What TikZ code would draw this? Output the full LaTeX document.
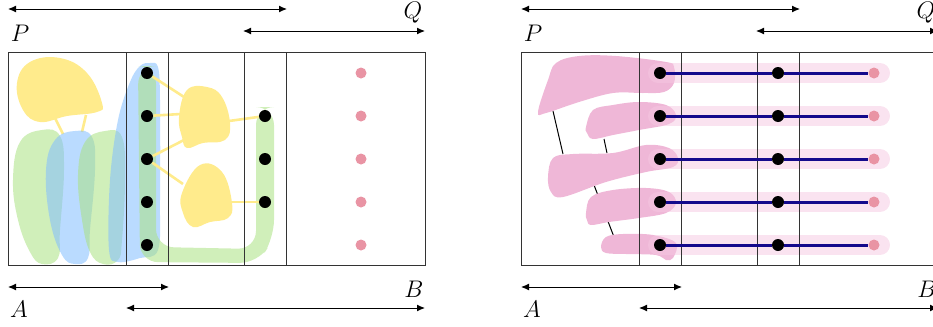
\documentclass[tikz,border=0pt]{standalone}
\usetikzlibrary{arrows.meta}
\definecolor{BlobYellow}{HTML}{FFEB8C}
\definecolor{BlobGreen}{HTML}{AAE182}
\definecolor{BlobBlue}{HTML}{82BEFF}
\definecolor{BlobPink}{HTML}{EFB7D7}
\definecolor{StreakPink}{HTML}{F5C8E1}
\definecolor{DotPink}{HTML}{E994A4}
\definecolor{PathNavy}{HTML}{140A8C}
\definecolor{FrameInk}{HTML}{333333}
\pgfdeclarelayer{blobs}
\pgfsetlayers{blobs,main}

\begin{document}
\begin{tikzpicture}[x=0.5pt,y=-0.5pt,
    dot/.style={circle,fill=black,inner sep=0pt,minimum size=6pt},
    pinkdot/.style={circle,fill=DotPink,inner sep=0pt,minimum size=5.5pt},
    spanarrow/.style={draw=black,line width=0.5pt,
      {Latex[length=4pt,width=3.5pt]}-{Latex[length=4pt,width=3.5pt]}},
    lbl/.style={font=\large,inner sep=0pt},
    panelbox/.style={draw=FrameInk,line width=0.5pt},
    yline/.style={draw=BlobYellow,line width=1.3pt},
    softfill/.style={fill opacity=0.55},
    navyline/.style={draw=PathNavy,line width=1.5pt},
    streak/.style={draw=StreakPink,opacity=0.5,line width=10pt,line cap=round}
  ]
  \useasboundingbox (0,0) rectangle (933,327);

  % frames, spans and dots shared by both halves
  \foreach \dx/\s in {0/L,513/R} {
    \begin{scope}[shift={(\dx,0)}]
      \draw[panelbox] (8,52) rectangle (425,265);
      \draw[panelbox] (126,52) rectangle (168,265);
      \draw[panelbox] (244,52) rectangle (286,265);
      \draw[spanarrow] (8,9) -- (287,9);
      \draw[spanarrow] (243,31) -- (425,31);
      \draw[spanarrow] (8,287) -- (169,287);
      \draw[spanarrow] (126,308) -- (425,308);
      \node[lbl] (P\s) at (20,33) {$P$};
      \node[lbl] (Q\s) at (413,13) {$Q$};
      \node[lbl] (A\s) at (19,309) {$A$};
      \node[lbl] (B\s) at (414,289) {$B$};
      \foreach \i in {1,...,5} {
        \node[dot] (\s a\i) at (147,30+43*\i) {};
        \node[pinkdot] (\s p\i) at (361,30+43*\i) {};
      }
    \end{scope}
  }

  % left half
  \foreach \i in {2,3,4}
    \node[dot] (Lb\i) at (265,30+43*\i) {};
  \coordinate (yA1) at (184,97);
  \coordinate (yA2) at (181,114);
  \coordinate (yA3) at (184,140);
  \coordinate (yA4) at (229,121);
  \coordinate (yB1) at (183,184);
  \coordinate (yB2) at (231,202);

  \begin{pgfonlayer}{blobs}
    \draw[yline] (55,118) -- (63,134);
    \draw[yline] (86,115) -- (82,132);
    \fill[BlobGreen,softfill] plot[smooth cycle,tension=0.7] coordinates {
      (13,180) (20,142) (42,130) (60,136) (64,170) (60,230)
      (58,258) (42,264) (30,252) (18,220)};
    \fill[BlobBlue,softfill] plot[smooth cycle,tension=0.7] coordinates {
      (46,170) (55,140) (75,131) (92,137) (95,170) (90,230)
      (88,258) (75,264) (62,255) (50,220)};
    \fill[BlobGreen,softfill] plot[smooth cycle,tension=0.7] coordinates {
      (78,175) (85,142) (105,131) (122,137) (125,180) (122,240)
      (118,260) (103,264) (90,252) (82,220)};
    \fill[BlobBlue,softfill] plot[smooth cycle,tension=0.6] coordinates {
      (150,63) (158,67) (160,100) (160,200) (158,250) (140,258)
      (118,262) (109,250) (110,180) (118,120) (130,82) (140,66)};
    \fill[BlobGreen,softfill,rounded corners=9]
      (138,66) -- (156,66) -- (156,247) -- (256,249) -- (256,107)
      -- (274,107) -- (274,238) -- (258,263) -- (140,262) -- cycle;
    \fill[BlobYellow] plot[smooth cycle,tension=0.7] coordinates {
      (17,83) (30,62) (60,58) (87,73) (102,103) (97,112)
      (67,116) (40,122) (23,110)};
    \fill[BlobYellow] plot[smooth cycle,tension=0.7] coordinates {
      (179,117) (187,90) (207,87) (222,97) (230,123) (225,140)
      (203,143) (187,148) (182,137)};
    \fill[BlobYellow] plot[smooth cycle,tension=0.7] coordinates {
      (182,193) (200,165) (222,172) (232,203) (228,218)
      (210,222) (193,227) (183,213)};
    \draw[yline] (La1) -- (yA1);
    \draw[yline] (La2) -- (yA2);
    \draw[yline] (La3) -- (yA3);
    \draw[yline] (La3) -- (yB1);
    \draw[yline] (yA4) -- (Lb2);
    \draw[yline] (yB2) -- (Lb4);
  \end{pgfonlayer}

  % right half
  \begin{scope}[shift={(513,0)}]
    \foreach \i in {1,...,5}
      \node[dot] (Rb\i) at (265,30+43*\i) {};
    \begin{pgfonlayer}{blobs}
      \draw[line width=0.5pt] (40,111) -- (50,154);
      \draw[line width=0.5pt] (91,139) -- (94,153);
      \draw[line width=0.5pt] (81,185) -- (101,237);
      \fill[BlobPink] plot[smooth cycle,tension=0.6] coordinates {
        (25,112) (35,80) (43,63) (66,56) (103,56) (153,62) (161,67)
        (161,83) (151,92) (130,93) (100,93) (66,102) (33,113)};
      \fill[BlobPink] plot[smooth cycle,tension=0.6] coordinates {
        (73,127) (80,110) (100,105) (126,102) (153,105) (163,115)
        (156,124) (126,130) (100,135) (80,139) (74,133)};
      \fill[BlobPink] plot[smooth cycle,tension=0.6] coordinates {
        (35,177) (40,158) (60,154) (100,153) (133,145) (156,148)
        (165,158) (160,167) (133,172) (93,182) (50,197) (38,192)};
      \fill[BlobPink] plot[smooth cycle,tension=0.6] coordinates {
        (73,213) (78,197) (100,190) (133,188) (156,192) (163,203)
        (153,213) (126,218) (96,222) (78,225) (74,220)};
      \fill[BlobPink] plot[smooth cycle,tension=0.6] coordinates {
        (88,247) (93,237) (110,234) (140,235) (163,243) (160,258)
        (153,260) (143,255) (113,254) (93,253)};
      \foreach \y in {73,116,...,245}
        \draw[streak] (145,\y) -- (367,\y);
    \end{pgfonlayer}
    \foreach \i in {1,...,5}
      \draw[navyline] (Ra\i) -- (Rb\i) -- (Rp\i);
  \end{scope}
\end{tikzpicture}
\end{document}
